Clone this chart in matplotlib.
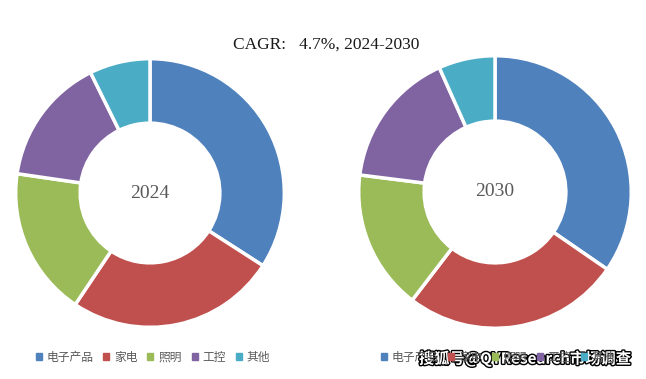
import matplotlib.pyplot as plt
import matplotlib.patheffects as pe
from matplotlib.patches import Rectangle

plt.rcParams['font.family'] = ['Noto Sans CJK SC', 'DejaVu Sans']

categories = ['电子产品', '家电', '照明', '工控', '其他']
share_2024 = [34.1, 25.3, 17.9, 15.4, 7.3]
share_2030 = [34.6, 25.8, 16.6, 16.3, 6.7]
years = ['2024', '2030']
colors = ['#4F81BD', '#C0504D', '#9BBB59', '#8064A2', '#4BACC6']

W, H = 646, 379
fig = plt.figure(figsize=(W / 100, H / 100), dpi=100)


def px_axes(cx, cy, r):
    return fig.add_axes([(cx - r) / W, 1 - (cy + r) / H, 2 * r / W, 2 * r / H])


def donut(ax, vals, label):
    ax.pie(vals, colors=colors, startangle=90, counterclock=False, radius=1,
           wedgeprops=dict(width=0.48, edgecolor='white', linewidth=2.5))
    ax.text(0, 0, label, ha='center', va='center', fontsize=14,
            family='Liberation Serif', color='#595959')
    ax.set_xlim(-1.02, 1.02)
    ax.set_ylim(-1.02, 1.02)
    ax.set_aspect('equal')
    ax.axis('off')


ax1 = px_axes(150, 193, 137)
donut(ax1, share_2024, years[0])
ax2 = px_axes(495, 192, 139)
donut(ax2, share_2030, years[1])

fig.text(326 / W, 1 - 45 / H, 'CAGR:   4.7%, 2024-2030', ha='center', va='center',
         fontsize=12.5, family='Liberation Serif', color='#1a1a1a')

handles = [Rectangle((0, 0), 1, 1, color=c) for c in colors]
for x0 in (25, 370):
    fig.legend(handles, categories, loc='center left',
               bbox_to_anchor=(x0 / W, 1 - 357 / H), ncol=5, frameon=False,
               fontsize=8.5, handlelength=0.5, handleheight=0.5,
               handletextpad=0.4, columnspacing=0.85, labelcolor='#595959')

fig.text(525 / W, 1 - 359 / H, '搜狐号@QYResearch市场调查', ha='center', va='center',
         fontsize=11, fontweight='bold', color='white',
         path_effects=[pe.withStroke(linewidth=2, foreground='black')])

fig.savefig('out.png', dpi=100)
